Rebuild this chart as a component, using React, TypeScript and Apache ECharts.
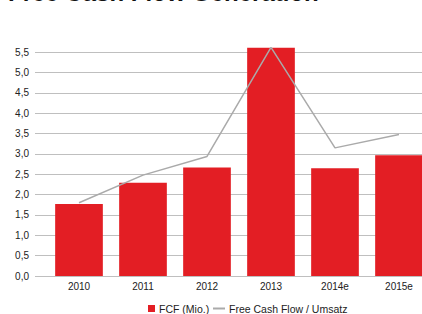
import React, { useEffect, useRef } from "react";
import * as echarts from "echarts";

const categories = ["2010", "2011", "2012", "2013", "2014e", "2015e"];
const fcfValues = [1.77, 2.29, 2.67, 5.61, 2.65, 2.97];
const ratioValues = [1.8, 2.48, 2.94, 5.62, 3.15, 3.48];
const yMin = 0;
const yMax = 5.5;
const yInterval = 0.5;

export default function App() {
  const ref = useRef<HTMLDivElement>(null);
  useEffect(() => {
    if (!ref.current) return;
    const chart = echarts.init(ref.current, undefined, { renderer: "svg" });
    const font = "'Liberation Sans', Arial, sans-serif";
    chart.setOption({
      animation: false,
      backgroundColor: "#ffffff",
      title: {
        text: "Free Cash Flow Generation",
        left: 8,
        top: -20,
        padding: 0,
        textStyle: { fontFamily: font, fontSize: 24, fontWeight: "bold", color: "#111111" },
      },
      legend: [
        {
          data: ["FCF (Mio.)"],
          left: 148,
          top: 303,
          padding: 0,
          itemWidth: 7,
          itemHeight: 7,
          itemGap: 4,
          icon: "rect",
          textStyle: { fontFamily: font, fontSize: 10.5, color: "#222222", padding: [0, 0, 0, -1] },
        },
        {
          data: ["Free Cash Flow / Umsatz"],
          left: 213,
          top: 303,
          padding: 0,
          itemWidth: 12,
          itemHeight: 2,
          icon: "rect",
          itemStyle: { color: "#AAAAAA", borderWidth: 0 },
          textStyle: { fontFamily: font, fontSize: 10.5, color: "#222222", padding: [0, 0, 0, -1] },
        },
      ],
      grid: { left: 47, right: 9, top: 52.3, bottom: 38, containLabel: false },
      xAxis: {
        type: "category",
        data: categories,
        axisLine: { show: true, lineStyle: { color: "#BFBFBF", width: 1 } },
        axisTick: { show: false },
        axisLabel: { fontFamily: font, fontSize: 10, color: "#222222", margin: 5 },
      },
      yAxis: {
        type: "value",
        min: yMin,
        max: yMax,
        interval: yInterval,
        axisLine: { show: false },
        axisTick: { show: true, length: 12, lineStyle: { color: "#BFBFBF", width: 1 } },
        splitLine: { show: true, lineStyle: { color: "#BFBFBF", width: 1 } },
        axisLabel: {
          fontFamily: font,
          fontSize: 10,
          color: "#222222",
          margin: 18,
          formatter: (v: number) => v.toFixed(1).replace(".", ","),
        },
      },
      series: [
        {
          name: "FCF (Mio.)",
          type: "bar",
          data: fcfValues,
          barWidth: "74.5%",
          clip: false,
          itemStyle: { color: "#E31E24" },
          z: 2,
        },
        {
          name: "Free Cash Flow / Umsatz",
          type: "line",
          data: ratioValues,
          showSymbol: false,
          symbol: "none",
          clip: false,
          lineStyle: { color: "#AAAAAA", width: 1.5 },
          itemStyle: { color: "#AAAAAA" },
          z: 3,
        },
      ],
    });
    return () => chart.dispose();
  }, []);
  return (
    <div style={{ position: "fixed", left: 0, top: 0, width: 422, height: 314, overflow: "hidden", background: "#fff" }}>
      <div ref={ref} style={{ width: 440, height: 314 }} />
    </div>
  );
}
